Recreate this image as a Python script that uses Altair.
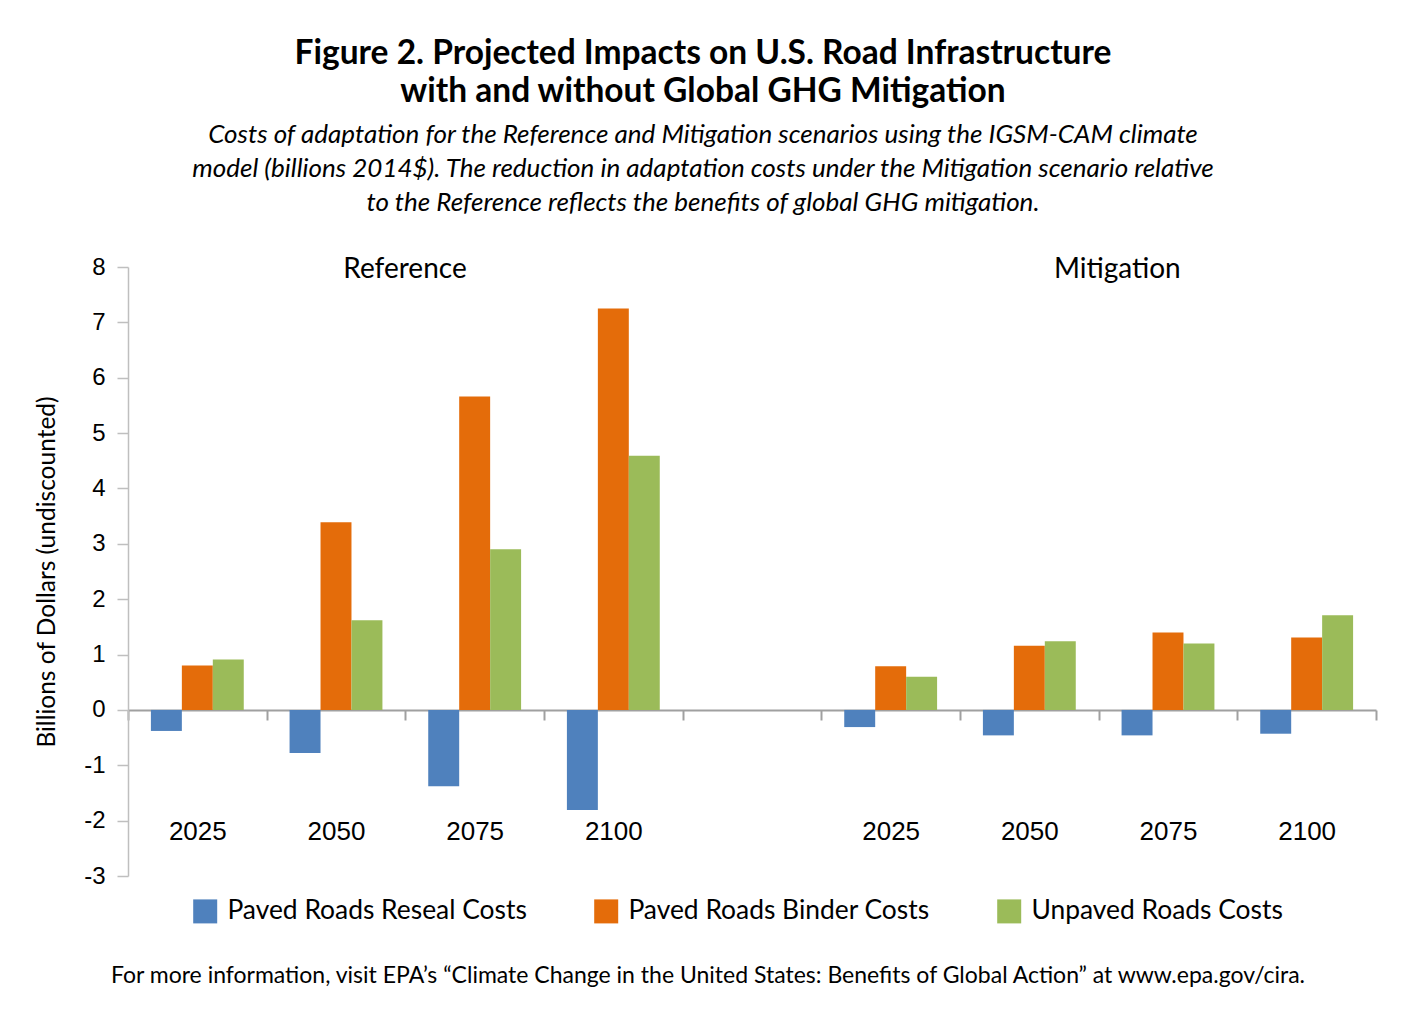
import altair as alt
import pandas as pd

slots = ["R2025", "R2050", "R2075", "R2100", "gap", "M2025", "M2050", "M2075", "M2100"]
data_slots = ["R2025", "R2050", "R2075", "R2100", "M2025", "M2050", "M2075", "M2100"]
series = ["Paved Roads Reseal Costs", "Paved Roads Binder Costs", "Unpaved Roads Costs"]
colors = ["#4F81BD", "#E46C0A", "#9BBB59"]

reseal = [-0.38, -0.78, -1.38, -1.81, -0.31, -0.46, -0.46, -0.43]
binder = [0.80, 3.39, 5.66, 7.25, 0.79, 1.16, 1.40, 1.31]
unpaved = [0.91, 1.62, 2.90, 4.59, 0.60, 1.24, 1.20, 1.71]

y_ticks = list(range(-3, 9))

title_lines = ["Figure 2. Projected Impacts on U.S. Road Infrastructure",
               "with and without Global GHG Mitigation"]
subtitle_lines = ["Costs of adaptation for the Reference and Mitigation scenarios using the IGSM-CAM climate",
                  "model (billions 2014$). The reduction in adaptation costs under the Mitigation scenario relative",
                  "to the Reference reflects the benefits of global GHG mitigation."]
footer_text = "For more information, visit EPA\u2019s \u201cClimate Change in the United States: Benefits of Global Action\u201d at www.epa.gov/cira."
y_title = "Billions of Dollars (undiscounted)"

rows = []
for vals, s in zip([reseal, binder, unpaved], series):
    for slot, v in zip(data_slots, vals):
        rows.append({"slot": slot, "series": s, "value": v})
df = pd.DataFrame(rows)

LABEL_FONT = "Lato"
NUM_FONT = "Liberation Sans"

x_enc = alt.X(
    "slot:N",
    sort=slots,
    scale=alt.Scale(domain=slots, paddingInner=0, paddingOuter=0),
    axis=alt.Axis(
        title=None,
        offset=-166,
        domainColor="#A0A0A0",
        domainWidth=2,
        tickColor="#A0A0A0",
        tickWidth=2,
        tickSize=10,
        tickBand="extent",
        labelFont=NUM_FONT,
        labelFontSize=26,
        labelColor="#000000",
        labelPadding=98,
        labelAngle=0,
        labelExpr="datum.label == 'gap' ? '' : substring(datum.label, 1)",
    ),
)

y_enc = alt.Y(
    "value:Q",
    scale=alt.Scale(domain=[-3, 8], nice=False, zero=False),
    axis=alt.Axis(
        values=y_ticks,
        labelExpr="'' + datum.value",
        title=y_title,
        titleFont=LABEL_FONT,
        titleFontSize=24.5,
        titleFontWeight="normal",
        titleColor="#000000",
        titlePadding=24,
        grid=False,
        domainColor="#BFBFBF",
        domainWidth=1.5,
        tickColor="#BFBFBF",
        tickWidth=1.5,
        tickSize=11,
        labelFont=NUM_FONT,
        labelFontSize=24,
        labelColor="#000000",
        labelPadding=12,
    ),
)

bars = alt.Chart(df).mark_bar().encode(
    x=x_enc,
    xOffset=alt.XOffset("series:N", sort=series,
                        scale=alt.Scale(domain=series, paddingInner=0, paddingOuter=0.74)),
    y=y_enc,
    color=alt.Color(
        "series:N",
        sort=series,
        scale=alt.Scale(domain=series, range=colors),
        legend=alt.Legend(
            title=None,
            orient="none",
            legendX=64,
            legendY=631,
            direction="horizontal",
            symbolType="square",
            symbolSize=576,
            symbolStrokeWidth=0,
            symbolOpacity=1,
            labelFont=LABEL_FONT,
            labelFontSize=26.4,
            labelColor="#000000",
            labelOffset=9,
            labelLimit=0,
            columnPadding=66,
        ),
    ),
)

ref_df = pd.DataFrame({"slot": ["R2050"], "value": [8], "label": ["Reference"]})
mit_df = pd.DataFrame({"slot": ["M2050"], "value": [8], "label": ["Mitigation"]})

ref_text = alt.Chart(ref_df).mark_text(
    font=LABEL_FONT, fontSize=28, color="#000000", align="center", baseline="middle", dx=69, dy=3
).encode(x=alt.X("slot:N", sort=slots), y=alt.Y("value:Q"), text="label:N")

mit_text = alt.Chart(mit_df).mark_text(
    font=LABEL_FONT, fontSize=28, color="#000000", align="center", baseline="middle", dx=88, dy=3
).encode(x=alt.X("slot:N", sort=slots), y=alt.Y("value:Q"), text="label:N")

footer = alt.Chart(pd.DataFrame({"t": [footer_text]})).mark_text(
    font=LABEL_FONT, fontSize=23, color="#000000", align="center", baseline="middle"
).encode(x=alt.value(580), y=alt.value(709), text="t:N")

chart = alt.layer(bars, ref_text, mit_text, footer).properties(
    width=1248,
    height=609,
    padding={"left": 120, "top": 259, "right": 32, "bottom": 140},
    autosize=alt.AutoSizeParams(type="none"),
    title=alt.TitleParams(
        text=title_lines,
        subtitle=subtitle_lines,
        anchor="middle",
        frame="group",
        dx=-49,
        offset=38,
        font=LABEL_FONT,
        fontSize=33.5,
        fontWeight="bold",
        color="#000000",
        lineHeight=38,
        subtitleFont=LABEL_FONT,
        subtitleFontSize=26,
        subtitleFontStyle="italic",
        subtitleColor="#000000",
        subtitleLineHeight=34,
        subtitlePadding=13,
    ),
).configure(
    background="#FFFFFF",
    view=alt.ViewConfig(stroke=None, strokeWidth=0),
)

chart.save("out.html", embed_options={"renderer": "svg", "actions": False})
